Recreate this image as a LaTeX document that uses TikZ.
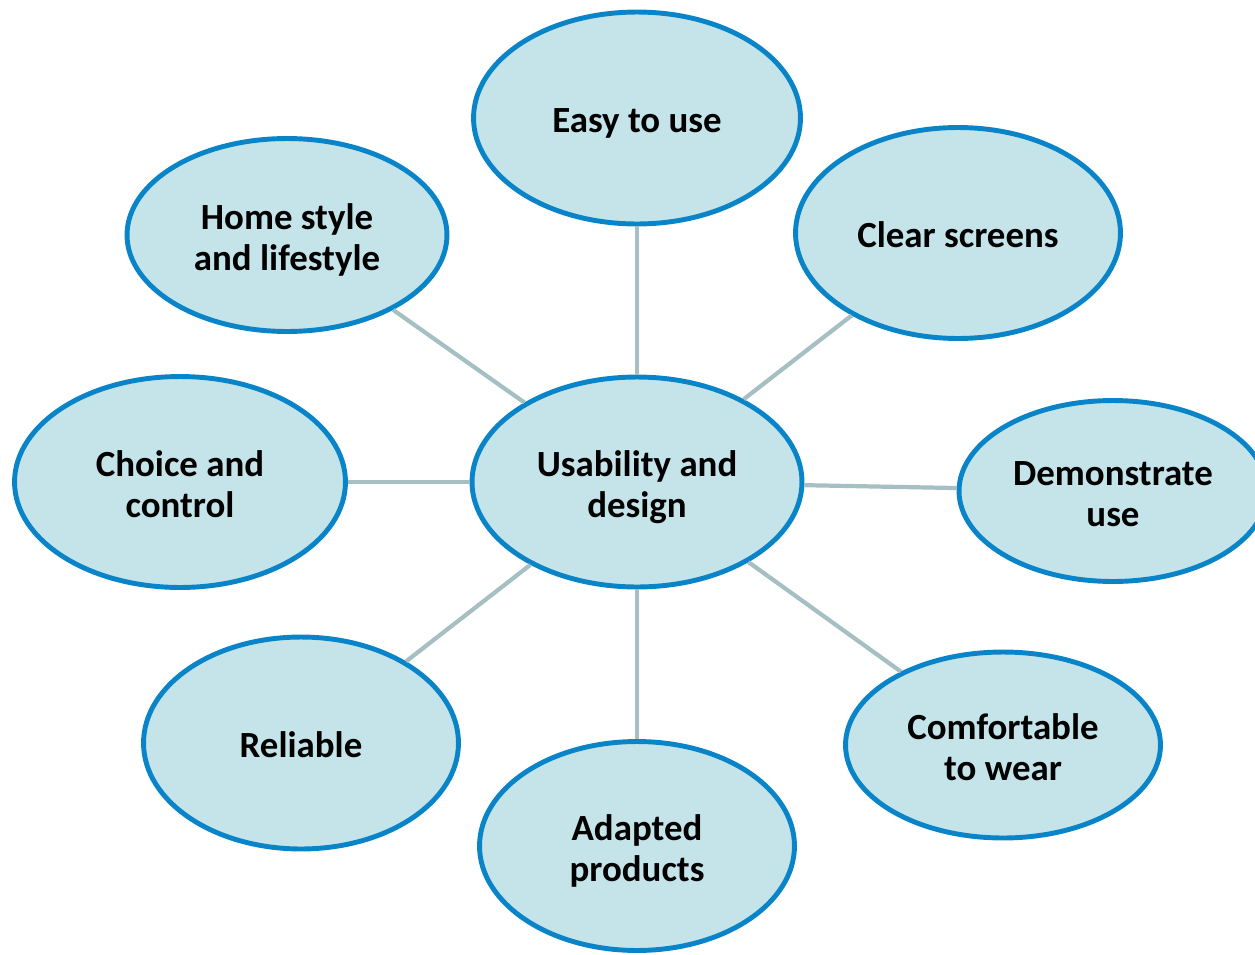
\documentclass[tikz,border=0pt]{standalone}
\usepackage{fontspec}
\setmainfont{Carlito}
\usetikzlibrary{shapes.geometric}
\definecolor{bubblefill}{HTML}{C4E4E9}
\definecolor{bubbleedge}{HTML}{0A84C8}
\definecolor{spoke}{HTML}{A5BFC3}
\tikzstyle{bubble}=[ellipse,draw=bubbleedge,fill=bubblefill,line width=2.8pt,inner sep=0pt,align=center,text depth=0pt,text height=40pt,font=\fontsize{21}{23}\selectfont\bfseries]
\tikzstyle{oneline}=[text height=17pt]
\tikzstyle{link}=[draw=spoke,line width=2.4pt]

\begin{document}
\begin{tikzpicture}[x=0.02cm,y=-0.02cm]
    \useasboundingbox (0,0) rectangle (1255,954);
    \clip (0,0) rectangle (1255,954);
    \node[bubble,minimum width=6.6cm,minimum height=4.2cm] (hub) at (637,482) {Usability and\\design};
    \node[bubble,oneline,minimum width=6.54cm,minimum height=4.24cm] (easy) at (637,118) {Easy to use};
    \node[bubble,oneline,minimum width=6.5cm,minimum height=4.22cm] (screens) at (958,233) {Clear screens};
    \node[bubble,minimum width=6.4cm,minimum height=3.86cm] (home) at (287,235) {Home style\\and lifestyle};
    \node[bubble,minimum width=6.62cm,minimum height=4.22cm] (choice) at (180,482) {Choice and\\control};
    \node[bubble,minimum width=6.16cm,minimum height=3.62cm] (demo) at (1113,491) {Demonstrate\\use};
    \node[bubble,minimum width=6.3cm,minimum height=3.72cm] (comfort) at (1003,745) {Comfortable\\to wear};
    \node[bubble,minimum width=6.3cm,minimum height=4.18cm] (adapted) at (637,846) {Adapted\\products};
    \node[bubble,oneline,minimum width=6.3cm,minimum height=4.24cm] (reliable) at (301,743) {Reliable};

    \foreach \to in {easy,screens,home,choice,demo,comfort,adapted,reliable}
    \draw[link] (hub) -- (\to);
\end{tikzpicture}
\end{document}
